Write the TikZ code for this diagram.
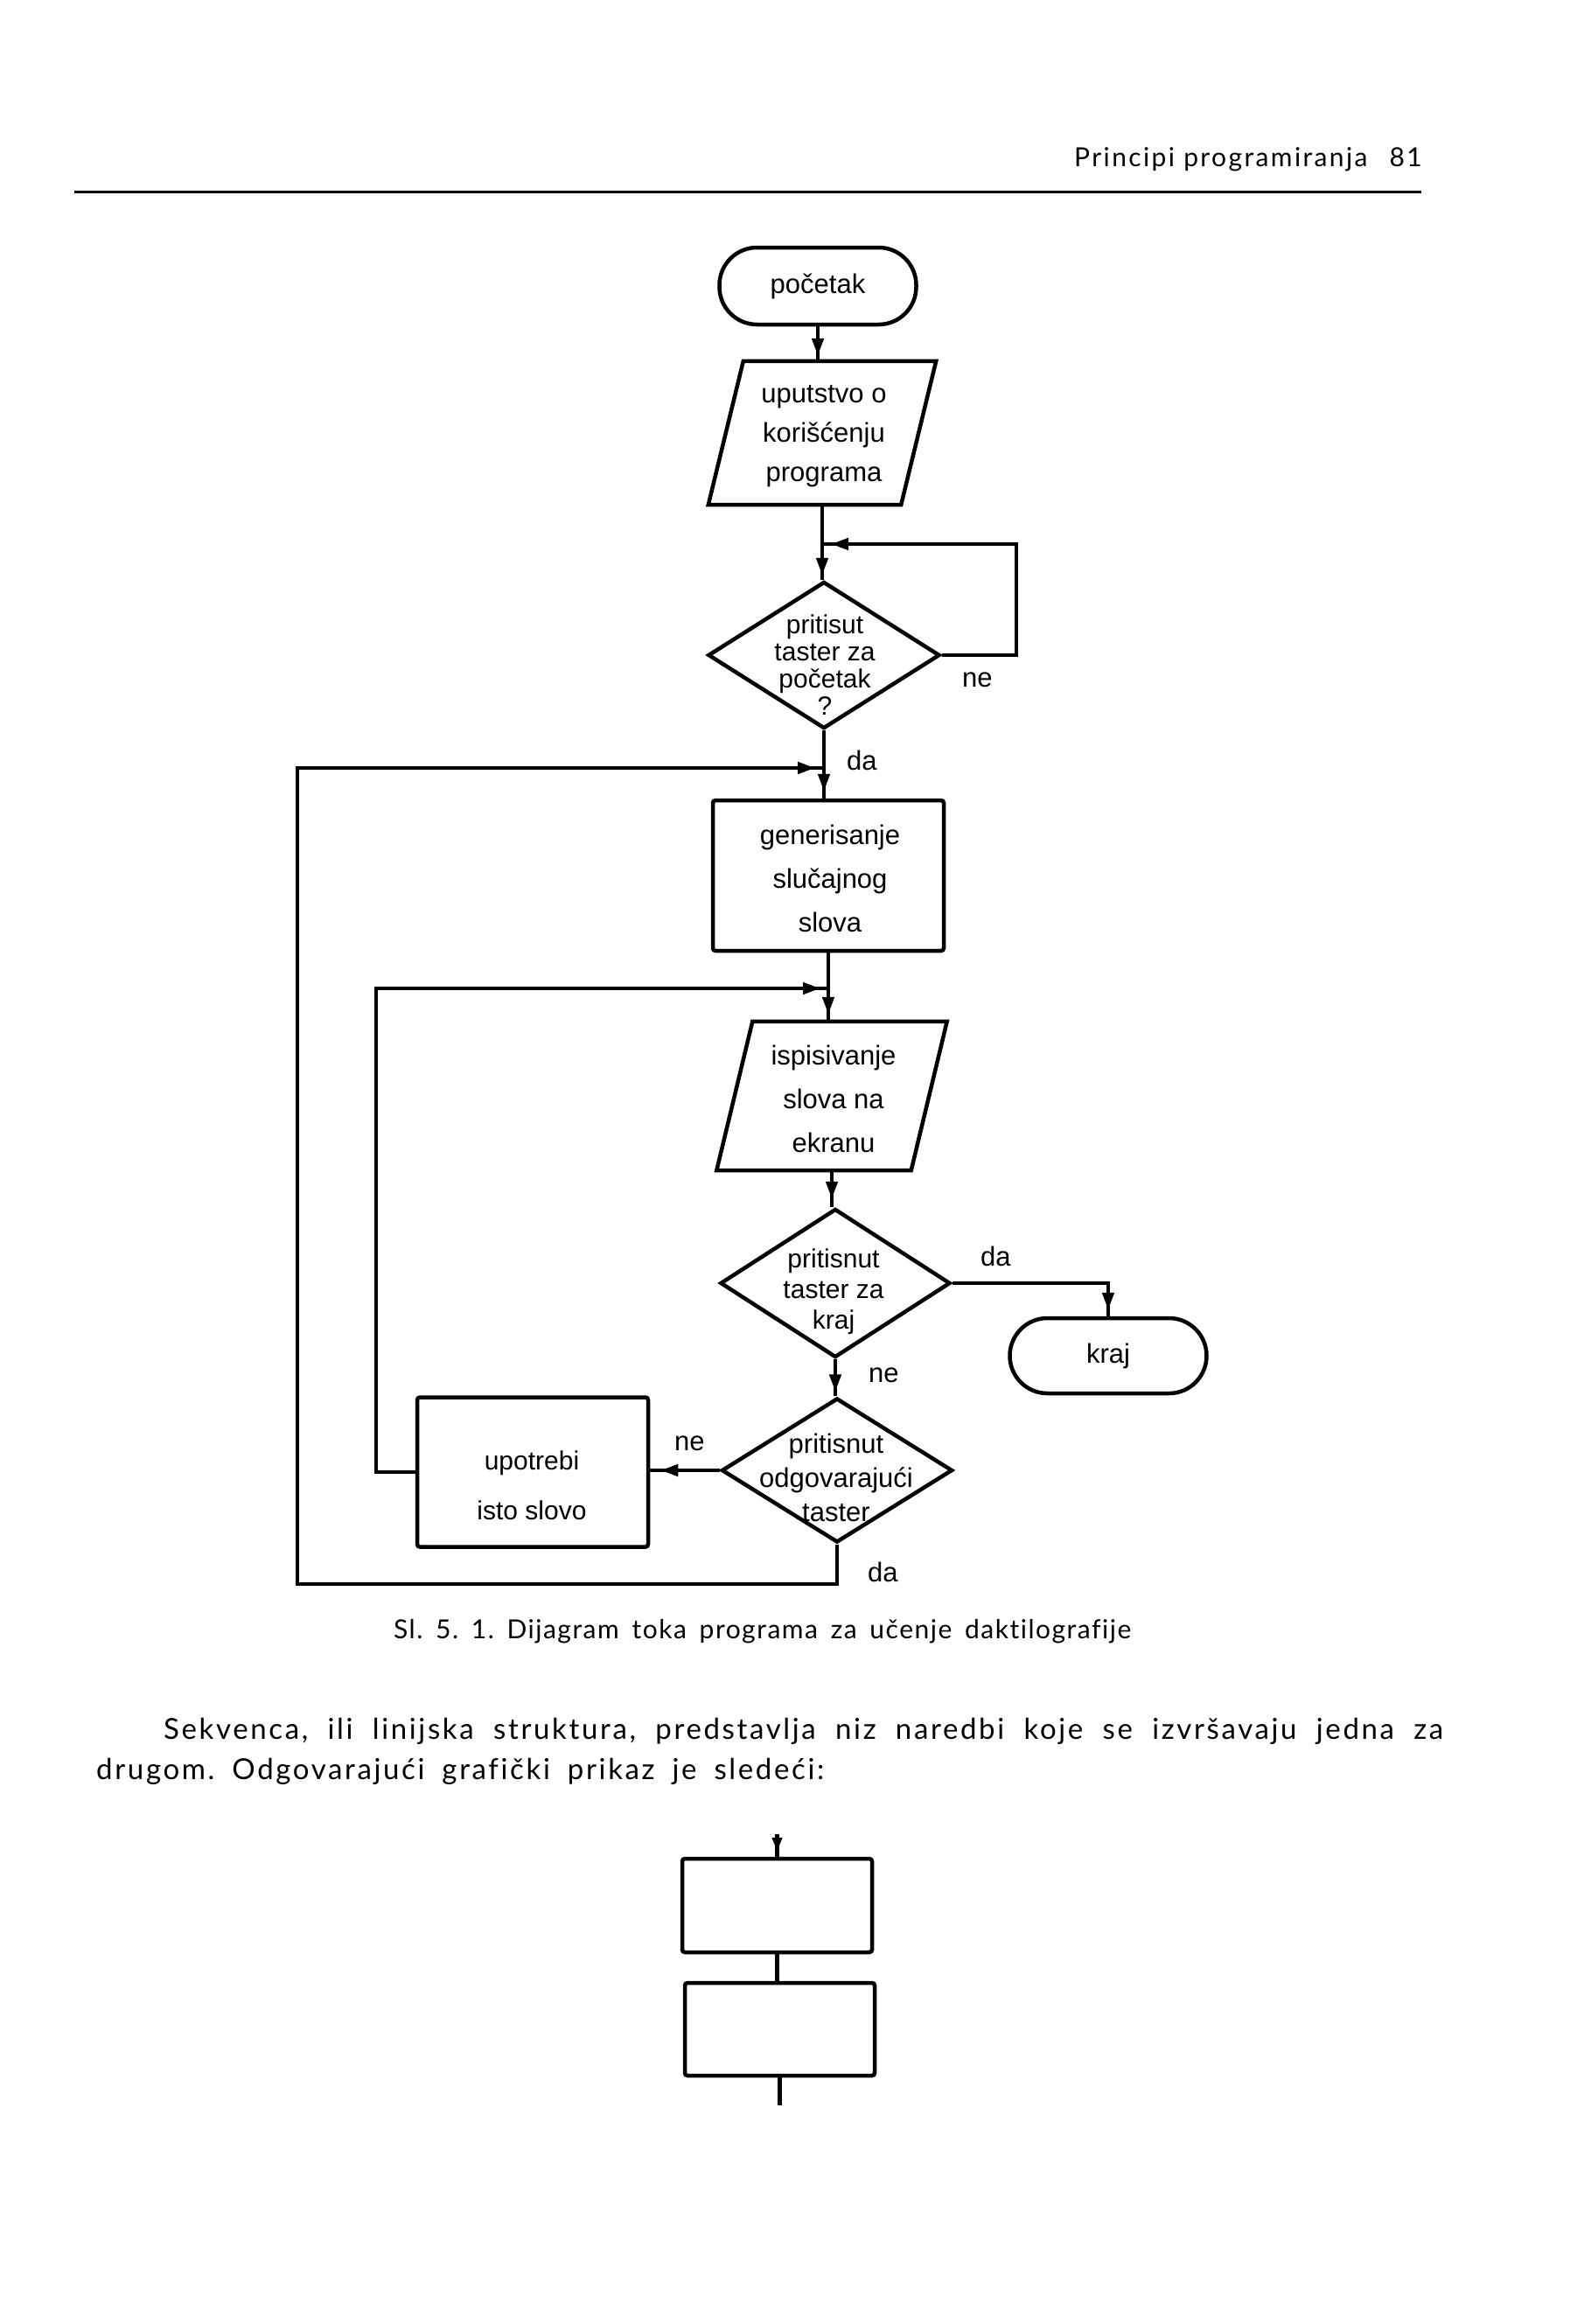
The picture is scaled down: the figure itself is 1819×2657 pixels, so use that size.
\documentclass[tikz,border=0pt]{standalone}
\usepackage{fontspec}
\setmainfont{Liberation Sans}
\newfontfamily\gillfam[LetterSpace=8, Ligatures=NoCommon]{Lato}
\newfontfamily\gillcapfam[LetterSpace=5, Ligatures=NoCommon]{Lato}
\usetikzlibrary{shapes.geometric,arrows.meta,decorations.markings,calc}
\frenchspacing
\newcommand\mydiag{\fontsize{31}{31}\selectfont}
\newcommand\myhdr{\gillfam\fontsize{30}{34}\selectfont}
\newcommand\mycap{\gillcapfam\fontsize{30}{34}\selectfont}
\newcommand\mybody{\gillfam\fontsize{33}{46}\selectfont}
\tikzset{
  ln/.style={line width=4.5pt},
  arrowpos/.style={postaction={decorate}, decoration={markings, mark=at position #1 with {\arrow{Triangle[length=20pt,width=13pt]}}}},
  term/.style={draw, ln, rectangle, rounded corners=43pt, minimum width=225pt, minimum height=88pt, inner sep=0pt, font=\mydiag},
  procbox/.style={draw, ln, rectangle, rounded corners=3pt, inner sep=0pt},
  dia/.style={draw, ln, diamond, inner sep=0pt},
  ghost/.style={rectangle, inner sep=0pt},
  txt/.style={inner sep=0pt, align=center},
  lab/.style={inner sep=0pt, anchor=base west, font=\mydiag},
  pagetext/.style={inner sep=0pt, anchor=base west},
}
\begin{document}
\begin{tikzpicture}[x=1pt,y=-1pt]
\fill[white] (0,0) rectangle (1819,2657);
\useasboundingbox (0,0) rectangle (1819,2657);

% header
\node[pagetext, font=\myhdr] (hdr) at (1228,190) {Principi programiranja\hspace{25pt}81};
\coordinate (rl) at (85,219);
\coordinate (rr) at (1625,219);
\draw[line width=3pt] (rl) -- (rr);

% nodes
\node[term] (start) at (935,327) {početak};

\node[ghost, minimum width=220pt, minimum height=164pt] (par1) at (940,495) {};
\draw[ln] ([xshift=20pt]par1.north west) -- ([xshift=20pt]par1.north east) -- ([xshift=-20pt]par1.south east) -- ([xshift=-20pt]par1.south west) -- cycle;
\node[txt, font={\fontsize{31}{45}\selectfont}] (par1t) at (942,499) {uputstvo o\\korišćenju\\programa};

\node[dia, minimum width=265pt, minimum height=168pt] (d1) at (942,749) {};
\node[txt, font={\fontsize{30}{31}\selectfont}] (d1t) at (943,760) {pritisut\\taster za\\početak\\?};

\node[procbox, minimum width=264pt, minimum height=172pt] (gen) at (947,1001) {};
\node[txt, font={\fontsize{31}{50}\selectfont}] (gent) at (949,1004) {generisanje\\slučajnog\\slova};

\node[ghost, minimum width=222pt, minimum height=170pt] (par2) at (951,1253) {};
\draw[ln] ([xshift=20.5pt]par2.north west) -- ([xshift=20.5pt]par2.north east) -- ([xshift=-20.5pt]par2.south east) -- ([xshift=-20.5pt]par2.south west) -- cycle;
\node[txt, font={\fontsize{31}{50}\selectfont}] (par2t) at (953,1256) {ispisivanje\\slova na\\ekranu};

\node[dia, minimum width=263pt, minimum height=170pt] (d2) at (955,1467) {};
\node[txt, font={\fontsize{30}{35}\selectfont}] (d2t) at (953,1477) {pritisnut\\taster za\\kraj};

\node[term, minimum height=86pt] (kraj) at (1267,1550) {kraj};

\node[dia, minimum width=264pt, minimum height=165pt] (d3) at (957,1681) {};
\node[txt, font={\fontsize{31}{39}\selectfont}] (d3t) at (956,1689) {pritisnut\\odgovarajući\\taster};

\node[procbox, minimum width=264pt, minimum height=171pt] (upo) at (609,1683) {};
\node[txt, font={\fontsize{30}{57}\selectfont}] (upot) at (608,1698) {upotrebi\\isto slovo};

% junctions and loop corners
\coordinate (j1) at (940,622);
\coordinate (j2) at (942,878);
\coordinate (l1) at (340,878);
\coordinate (j3) at (947,1130);
\coordinate (l2) at (430,1130);

% connectors
\draw[ln, arrowpos=-6pt] (start.south) -- (start.south |- par1.north);
\draw[ln, arrowpos=-5pt] (par1.south) -- (par1.south |- d1.north);
\draw[ln, arrowpos=-10pt] (d1.east) -- ++(85,0) |- (j1);
\draw[ln, arrowpos=-8pt] (d1.south) -- (d1.south |- gen.north);
\draw[ln, arrowpos=-10pt] (d3.south) -- ++(0,45) -| (l1) -- (j2);
\draw[ln, arrowpos=-8pt] (gen.south) -- (gen.south |- par2.north);
\draw[ln, arrowpos=-9pt] (upo.west) -| (l2) -- (j3);
\draw[ln, arrowpos=-9pt] (par2.south) -- (par2.south |- d2.north);
\draw[ln, arrowpos=-7pt] (d2.east) -| (kraj.north);
\draw[ln, arrowpos=-5pt] (d2.south) -- (d2.south |- d3.north);
\draw[ln, arrowpos=-12pt] (d3.west) -- (d3.west -| upo.east);

% labels
\node[lab] (ne1) at (1100,785) {ne};
\node[lab] (da1) at (968,880) {da};
\node[lab] (da2) at (1121,1447) {da};
\node[lab] (ne2) at (993,1580) {ne};
\node[lab] (ne3) at (771,1658) {ne};
\node[lab] (da3) at (992,1808) {da};

% caption
\node[pagetext, font=\mycap] (cap) at (450,1873) {\makebox[843pt][s]{Sl. 5. 1. Dijagram toka programa za učenje daktilografije}};

% body text
\node[pagetext, font=\mybody] (b1) at (187,1988) {\makebox[1463pt][s]{Sekvenca, ili linijska struktura, predstavlja niz naredbi koje se izvršavaju jedna za}};
\node[pagetext, font=\mybody] (b2) at (110,2034) {\makebox[832pt][s]{drugom. Odgovarajući grafički prikaz je sledeći:}};

% sequence figure
\node[procbox, minimum width=217pt, minimum height=107pt] (s1) at (888.5,2178.5) {};
\node[procbox, minimum width=217pt, minimum height=106pt] (s2) at (891.5,2320) {};
\coordinate (sin) at (888.5,2097);
\coordinate (sout) at (891.5,2407);
\draw[ln, postaction={decorate}, decoration={markings, mark=at position -6pt with {\arrow{Triangle[length=16pt,width=11pt]}}}] (sin) -- (s1.north);
\draw[ln] (s1.south) -- (s1.south |- s2.north);
\draw[ln] (s2.south) -- (sout);
\end{tikzpicture}
\end{document}
